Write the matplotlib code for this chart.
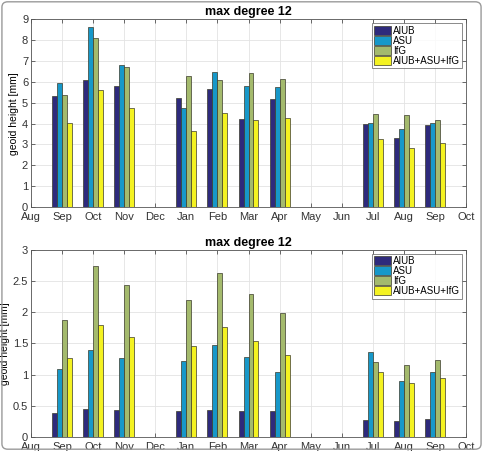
import matplotlib
matplotlib.use("Agg")
import matplotlib.pyplot as plt
import numpy as np
from matplotlib.patches import FancyBboxPatch

# month axis: Aug .. Oct (two years)
month_labels = ["Aug", "Sep", "Oct", "Nov", "Dec", "Jan", "Feb", "Mar",
                "Apr", "May", "Jun", "Jul", "Aug", "Sep", "Oct"]
# months with data (index into month_labels)
data_months = [1, 2, 3, 5, 6, 7, 8, 11, 12, 13]

series_names = ["AIUB", "ASU", "IfG", "AIUB+ASU+IfG"]
series_colors = ["#2E2A7C", "#1798C9", "#A4BA6D", "#F4F221"]

# top panel
top_aiub = [5.32, 6.08, 5.79, 5.23, 5.66, 4.24, 5.18, 3.97, 3.33, 3.94]
top_asu = [5.95, 8.64, 6.81, 4.75, 6.49, 5.81, 5.76, 4.05, 3.76, 4.05]
top_ifg = [5.37, 8.13, 6.70, 6.28, 6.08, 6.44, 6.12, 4.48, 4.43, 4.15]
top_comb = [4.02, 5.60, 4.74, 3.66, 4.50, 4.19, 4.26, 3.24, 2.84, 3.06]

# bottom panel
bot_aiub = [0.38, 0.45, 0.44, 0.42, 0.43, 0.41, 0.42, 0.27, 0.26, 0.29]
bot_asu = [1.09, 1.40, 1.27, 1.22, 1.47, 1.28, 1.05, 1.36, 0.89, 1.04]
bot_ifg = [1.88, 2.74, 2.44, 2.19, 2.63, 2.29, 1.99, 1.20, 1.16, 1.24]
bot_comb = [1.27, 1.80, 1.61, 1.46, 1.76, 1.54, 1.32, 1.05, 0.86, 0.95]

plt.rcParams["font.family"] = ["Liberation Sans", "DejaVu Sans"]

fig = plt.figure(figsize=(4.83, 4.51), dpi=100)
ax1 = fig.add_axes([0.064, 0.541, 0.901, 0.416])
ax2 = fig.add_axes([0.064, 0.031, 0.901, 0.415])

# rounded frame around the whole figure
fig.patches.append(FancyBboxPatch((0.004, 0.004), 0.992, 0.992,
                                  boxstyle="round,pad=0,rounding_size=0.012",
                                  transform=fig.transFigure, fill=False,
                                  edgecolor="#9a9a9a", linewidth=1.0))


def draw(ax, values, ymax, yticks, yticklabels):
    x = np.array(data_months, dtype=float)
    w = 0.16
    for i, (vals, col, name) in enumerate(zip(values, series_colors, series_names)):
        ax.bar(x + (i - 1.5) * w, vals, width=w, color=col,
               edgecolor="#3a3a2a", linewidth=0.5, label=name, zorder=3)
    ax.set_xlim(0, len(month_labels) - 1)
    ax.set_ylim(0, ymax)
    ax.set_xticks(range(len(month_labels)))
    ax.set_xticklabels(month_labels)
    ax.set_yticks(yticks)
    ax.set_yticklabels(yticklabels)
    ax.grid(True, color="#e3e3e3", linewidth=0.6, zorder=0)
    ax.tick_params(direction="in", top=True, right=True, length=3,
                   width=0.5, labelsize=8, colors="#333333", pad=2)
    ax.tick_params(axis="x", pad=3.5)
    for s in ax.spines.values():
        s.set_linewidth(0.6)
        s.set_color("#555555")
    ax.set_title("max degree 12", fontsize=9, fontweight="bold", pad=3)
    ax.set_ylabel("geoid height [mm]", fontsize=7.5, labelpad=2)
    leg = ax.legend(loc="upper right", fontsize=7, frameon=True, fancybox=False,
                    handlelength=1.7, handleheight=1.0, handletextpad=0.2,
                    labelspacing=0.0, borderpad=0.25, borderaxespad=0.4)
    leg.get_frame().set_edgecolor("#555555")
    leg.get_frame().set_linewidth(0.6)


draw(ax1, [top_aiub, top_asu, top_ifg, top_comb], 9,
     range(0, 10), [str(v) for v in range(0, 10)])
draw(ax2, [bot_aiub, bot_asu, bot_ifg, bot_comb], 3,
     np.arange(0, 3.01, 0.5), ["0", "0.5", "1", "1.5", "2", "2.5", "3"])

fig.savefig("out.png", dpi=100)
